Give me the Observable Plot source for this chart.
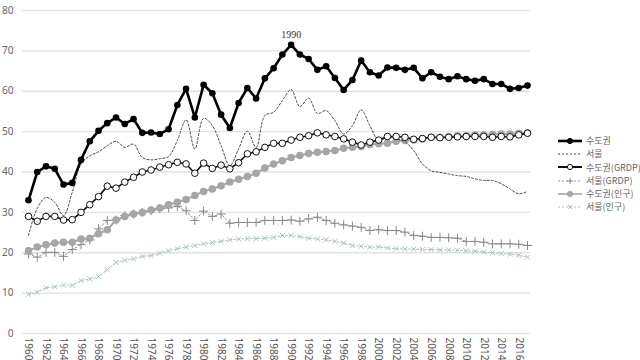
<!DOCTYPE html>
<html>
<head>
<meta charset="utf-8">
<script src="https://cdn.jsdelivr.net/npm/d3@7"></script>
<script src="https://cdn.jsdelivr.net/npm/@observablehq/plot@0.6"></script>
<style>
  body { margin: 0; background: #fff; }
  #wrap { position: relative; width: 640px; height: 360px; font-family: "Noto Sans", sans-serif; }
  #legend { position: absolute; left: 556px; top: 134px; font-family: "Noto Sans CJK KR", "Noto Sans", sans-serif; font-size: 9px; line-height: 13.3px; color: #666; }
  #legend .item { display: flex; align-items: center; height: 13.3px; white-space: nowrap; }
  #legend svg { margin-right: 2px; flex: none; }
</style>
</head>
<body>
<div id="wrap"><div id="legend"></div></div>
<script>
const years = d3.range(1960, 2018);

const sudogwon = [33, 40, 41.4, 40.8, 36.9, 37.3, 43, 47.6, 50.2, 52.1, 53.5, 51.9, 53.1, 49.7, 49.8, 49.4, 50.6, 56.6, 60.6, 53.5,
  61.6, 59.5, 54.2, 50.9, 57.1, 60.8, 58.2, 63.2, 65.7, 69.1, 71.5, 69.1, 68.0, 65.3, 66.2, 63.3, 60.3, 62.8, 67.6, 64.7,
  63.9, 65.9, 65.8, 65.3, 65.8, 63.2, 64.7, 63.6, 63.0, 63.7, 63.0, 62.6, 63.0, 61.8, 61.8, 60.6, 60.8, 61.4];

const seoul = [24.3, 31, 33.7, 32.5, 29.2, 35, 42, 44, 45, 46.5, 47.6, 46.1, 46.9, 43.6, 43, 43.3, 43.8, 47.8, 52.9, 45.7,
  53.3, 51.5, 46.5, 41.6, 45.7, 50.1, 46.1, 54.0, 54.8, 57.7, 60.4, 56.2, 58.3, 54.5, 55.2, 52.7, 49.4, 51.5, 55.4, 51.5,
  47.8, 48.6, 48.2, 47.5, 45.3, 42, 40.3, 39.9, 39.5, 39.1, 38.9, 38.3, 37.9, 37.9, 37.1, 35.8, 34.6, 35.2];

const sudogwonGRDP = [29.0, 27.8, 29.0, 29.0, 28.1, 28.2, 30.0, 31.9, 33.9, 36.5, 36.0, 37.5, 38.7, 40.0, 40.5, 41.2, 41.8, 42.4, 42.0, 39.7,
  42.2, 40.9, 41.7, 40.8, 42.3, 44.5, 45.0, 46.1, 47.1, 47.1, 47.9, 48.6, 49.0, 49.7, 49.2, 48.8, 48.2, 47.4, 46.7, 47.4,
  47.9, 48.8, 48.8, 48.6, 48.1, 48.3, 48.6, 48.5, 48.6, 48.7, 48.8, 48.8, 48.8, 48.6, 48.8, 48.7, 49.2, 49.6];

const seoulGRDP = [19.7, 18.9, 20.1, 20.1, 19.1, 20.8, 22.0, 23.2, 25.9, 28.0, 28.1, 29.2, 29.6, 30.0, 30.4, 30.9, 31.1, 31.5, 30.4, 28.0,
  30.3, 29.0, 29.6, 27.3, 27.5, 27.5, 27.5, 28.0, 28.0, 28.0, 28.1, 27.8, 28.4, 28.8, 28.0, 27.3, 26.9, 26.6, 26.3, 25.5,
  25.7, 25.5, 25.5, 25.1, 24.3, 24.1, 23.8, 23.8, 23.7, 23.6, 22.8, 22.8, 22.6, 22.2, 22.2, 22.2, 22.1, 21.8];

const sudogwonPop = [20.5, 21.4, 22.0, 22.4, 22.6, 22.6, 23.4, 23.6, 24.7, 25.7, 28.1, 29.0, 29.6, 30.0, 30.6, 31.1, 31.9, 32.5, 33.2, 34.2,
  35.2, 35.8, 36.6, 37.5, 38.2, 38.9, 39.7, 41.0, 42.0, 42.8, 43.6, 44.1, 44.6, 44.9, 45.1, 45.3, 45.9, 46.1, 46.3, 46.8,
  47.0, 47.1, 47.6, 47.8, 47.9, 48.2, 48.6, 48.6, 48.8, 49.0, 49.0, 49.2, 49.2, 49.3, 49.4, 49.4, 49.6, 49.7];

const seoulPop = [9.7, 10.2, 11.3, 11.6, 12.0, 11.9, 13.1, 13.5, 14.1, 15.8, 17.6, 18.1, 18.5, 19.1, 19.3, 19.9, 20.5, 21.0, 21.4, 21.8,
  22.2, 22.5, 22.8, 23.2, 23.4, 23.5, 23.5, 23.6, 23.8, 24.3, 24.3, 24.0, 23.6, 23.4, 23.2, 22.8, 22.4, 21.8, 21.6, 21.4,
  21.4, 21.2, 21.0, 20.9, 20.9, 20.8, 20.8, 20.7, 20.7, 20.6, 20.5, 20.4, 20.2, 20.0, 19.8, 19.6, 19.4, 18.9];

const seriesNames = ["수도권", "서울", "수도권(GRDP)", "서울(GRDP)", "수도권(인구)", "서울(인구)"];
const yTicks = d3.range(0, 81, 10);
const xTicks = d3.range(1960, 2017, 2);
const annotationYear = 1990;

const toRows = (vals) => years.map((y, i) => ({year: y, value: vals[i]}));
const rSudo = toRows(sudogwon);
const rSeoul = toRows(seoul);
const rSudoG = toRows(sudogwonGRDP);
const rSeoulG = toRows(seoulGRDP);
const rSudoP = toRows(sudogwonPop);
const rSeoulP = toRows(seoulPop);

const chart = Plot.plot({
  width: 640,
  height: 360,
  marginLeft: 22,
  marginRight: 110,
  marginTop: 10,
  marginBottom: 27,
  style: {fontFamily: "'Noto Sans', sans-serif", background: "transparent"},
  x: {domain: [1960, 2017], insetLeft: 6, insetRight: 3, label: null},
  y: {domain: [0, 80], label: null},
  marks: [
    Plot.gridY(yTicks, {stroke: "#e2e2e2", strokeOpacity: 1, strokeWidth: 1.3}),
    Plot.axisY(yTicks, {tickSize: 0, tickPadding: 9, fontSize: 10, fill: "#666", label: null}),
    Plot.axisX(xTicks, {tickSize: 0, tickPadding: 4, tickRotate: 90, tickFormat: d => String(d), fontSize: 10, fill: "#555", label: null}),
    // 서울(인구)
    Plot.line(rSeoulP, {x: "year", y: "value", stroke: "#a9c4bc", strokeWidth: 1, strokeDasharray: "2,2"}),
    Plot.dot(rSeoulP, {x: "year", y: "value", symbol: "times", r: 2.4, stroke: "#a9c4bc", strokeWidth: 1}),
    // 서울(GRDP)
    Plot.line(rSeoulG, {x: "year", y: "value", stroke: "#999", strokeWidth: 1, strokeDasharray: "2,2"}),
    Plot.dot(rSeoulG, {x: "year", y: "value", symbol: "plus", r: 3, stroke: "#888", strokeWidth: 1}),
    // 수도권(인구)
    Plot.line(rSudoP, {x: "year", y: "value", stroke: "#a6a6a6", strokeWidth: 2}),
    Plot.dot(rSudoP, {x: "year", y: "value", r: 3, fill: "#a6a6a6", stroke: "#a6a6a6"}),
    // 서울
    Plot.line(rSeoul, {x: "year", y: "value", stroke: "#444", strokeWidth: 1, strokeDasharray: "2,2", curve: "catmull-rom"}),
    // 수도권(GRDP)
    Plot.line(rSudoG, {x: "year", y: "value", stroke: "#111", strokeWidth: 1.6}),
    Plot.dot(rSudoG, {x: "year", y: "value", r: 3.3, fill: "#fff", stroke: "#111", strokeWidth: 1}),
    // 수도권
    Plot.line(rSudo, {x: "year", y: "value", stroke: "#000", strokeWidth: 2.6}),
    Plot.dot(rSudo, {x: "year", y: "value", r: 3.3, fill: "#000"}),
    Plot.text(rSudo.filter(d => d.year === annotationYear), {x: "year", y: "value", text: d => String(d.year), dy: -10, fontSize: 10, fill: "#333", fontFamily: "'Liberation Serif', serif"})
  ]
});
document.getElementById("wrap").prepend(chart);

// Legend
const swatches = [
  {stroke: "#000", w: 2.6, dash: null, marker: "dot", mfill: "#000", mstroke: "#000"},
  {stroke: "#444", w: 1, dash: "2,2", marker: null},
  {stroke: "#111", w: 2, dash: null, marker: "dot", mfill: "#fff", mstroke: "#111"},
  {stroke: "#999", w: 1, dash: "2,2", marker: "plus", mstroke: "#888"},
  {stroke: "#a6a6a6", w: 1.6, dash: null, marker: "dot", mfill: "#a6a6a6", mstroke: "#a6a6a6"},
  {stroke: "#a9c4bc", w: 1, dash: "2,2", marker: "times", mstroke: "#a9c4bc"}
];
const legend = d3.select("#legend");
seriesNames.forEach((name, i) => {
  const s = swatches[i];
  const item = legend.append("div").attr("class", "item");
  const svg = item.append("svg").attr("width", 28).attr("height", 10);
  svg.append("line").attr("x1", 2).attr("x2", 26).attr("y1", 5).attr("y2", 5)
    .attr("stroke", s.stroke).attr("stroke-width", s.w).attr("stroke-dasharray", s.dash);
  if (s.marker === "dot") {
    svg.append("circle").attr("cx", 14).attr("cy", 5).attr("r", 2.6).attr("fill", s.mfill).attr("stroke", s.mstroke);
  } else if (s.marker === "plus") {
    svg.append("path").attr("d", "M11,5H17M14,2V8").attr("stroke", s.mstroke);
  } else if (s.marker === "times") {
    svg.append("path").attr("d", "M12,3L16,7M16,3L12,7").attr("stroke", s.mstroke);
  }
  item.append("span").text(name);
});
</script>
</body>
</html>
